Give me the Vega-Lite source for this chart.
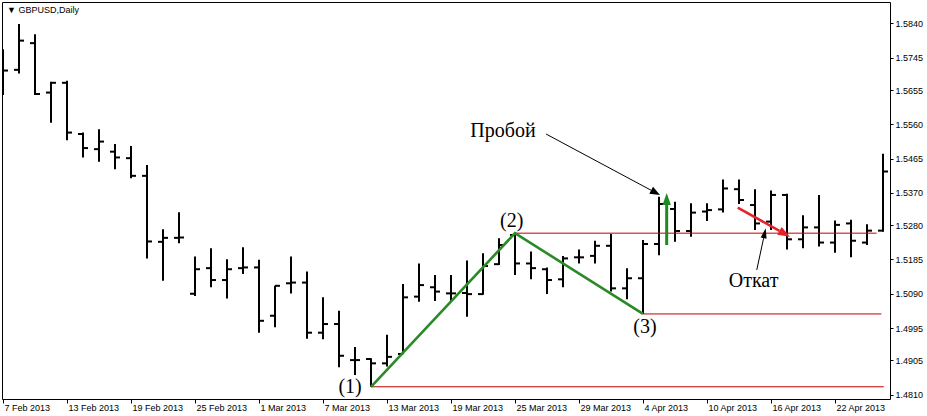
{
  "$schema": "https://vega.github.io/schema/vega-lite/v6.json",
  "width": 888,
  "height": 397,
  "autosize": "none",
  "padding": {"left": 2, "top": 2, "right": 37, "bottom": 17},
  "background": "white",
  "title": {
    "text": "▼ GBPUSD,Daily",
    "anchor": "start",
    "frame": "group",
    "offset": -13,
    "dx": 5,
    "font": "Liberation Sans",
    "fontSize": 9,
    "fontWeight": "normal",
    "color": "black"
  },
  "config": {
    "view": {"stroke": "black", "strokeWidth": 1},
    "axis": {
      "grid": false,
      "domain": false,
      "labelFont": "Liberation Sans",
      "labelFontSize": 9,
      "labelColor": "black",
      "tickColor": "black",
      "tickWidth": 1
    }
  },
  "datasets": {
    "bars": [
      {"i": 0, "date": "2013-02-07", "o": 1.5683, "h": 1.5768, "l": 1.5641, "c": 1.5709},
      {"i": 1, "date": "2013-02-08", "o": 1.5711, "h": 1.5838, "l": 1.5701, "c": 1.5792},
      {"i": 2, "date": "2013-02-11", "o": 1.5785, "h": 1.5810, "l": 1.5641, "c": 1.5644},
      {"i": 3, "date": "2013-02-12", "o": 1.5648, "h": 1.5678, "l": 1.5564, "c": 1.5675},
      {"i": 4, "date": "2013-02-13", "o": 1.5675, "h": 1.5681, "l": 1.5516, "c": 1.5537},
      {"i": 5, "date": "2013-02-14", "o": 1.5533, "h": 1.5537, "l": 1.5468, "c": 1.5494},
      {"i": 6, "date": "2013-02-15", "o": 1.5491, "h": 1.5546, "l": 1.5456, "c": 1.5512},
      {"i": 7, "date": "2013-02-18", "o": 1.5484, "h": 1.5505, "l": 1.5435, "c": 1.5468},
      {"i": 8, "date": "2013-02-19", "o": 1.5466, "h": 1.5500, "l": 1.5410, "c": 1.5417},
      {"i": 9, "date": "2013-02-20", "o": 1.5417, "h": 1.5447, "l": 1.5188, "c": 1.5235},
      {"i": 10, "date": "2013-02-21", "o": 1.5234, "h": 1.5269, "l": 1.5126, "c": 1.5245},
      {"i": 11, "date": "2013-02-22", "o": 1.5245, "h": 1.5316, "l": 1.5230, "c": 1.5246},
      {"i": 12, "date": "2013-02-25", "o": 1.5090, "h": 1.5193, "l": 1.5084, "c": 1.5158},
      {"i": 13, "date": "2013-02-26", "o": 1.5161, "h": 1.5216, "l": 1.5108, "c": 1.5128},
      {"i": 14, "date": "2013-02-27", "o": 1.5128, "h": 1.5186, "l": 1.5077, "c": 1.5158},
      {"i": 15, "date": "2013-02-28", "o": 1.5161, "h": 1.5219, "l": 1.5145, "c": 1.5163},
      {"i": 16, "date": "2013-03-01", "o": 1.5163, "h": 1.5184, "l": 1.4982, "c": 1.5015},
      {"i": 17, "date": "2013-03-04", "o": 1.5029, "h": 1.5112, "l": 1.4997, "c": 1.5112},
      {"i": 18, "date": "2013-03-05", "o": 1.5119, "h": 1.5193, "l": 1.5091, "c": 1.5121},
      {"i": 19, "date": "2013-03-06", "o": 1.5121, "h": 1.5152, "l": 1.4965, "c": 1.4982},
      {"i": 20, "date": "2013-03-07", "o": 1.4982, "h": 1.5080, "l": 1.4964, "c": 1.5006},
      {"i": 21, "date": "2013-03-08", "o": 1.5006, "h": 1.5043, "l": 1.4886, "c": 1.4918},
      {"i": 22, "date": "2013-03-11", "o": 1.4906, "h": 1.4942, "l": 1.4865, "c": 1.4906},
      {"i": 23, "date": "2013-03-12", "o": 1.4909, "h": 1.4911, "l": 1.4832, "c": 1.4897},
      {"i": 24, "date": "2013-03-13", "o": 1.4897, "h": 1.4976, "l": 1.4888, "c": 1.4915},
      {"i": 25, "date": "2013-03-14", "o": 1.4923, "h": 1.5117, "l": 1.4922, "c": 1.5080},
      {"i": 26, "date": "2013-03-15", "o": 1.5082, "h": 1.5174, "l": 1.5068, "c": 1.5114},
      {"i": 27, "date": "2013-03-18", "o": 1.5108, "h": 1.5142, "l": 1.5070, "c": 1.5096},
      {"i": 28, "date": "2013-03-19", "o": 1.5091, "h": 1.5142, "l": 1.5068, "c": 1.5091},
      {"i": 29, "date": "2013-03-20", "o": 1.5092, "h": 1.5182, "l": 1.5026, "c": 1.5089},
      {"i": 30, "date": "2013-03-21", "o": 1.5089, "h": 1.5202, "l": 1.5087, "c": 1.5167},
      {"i": 31, "date": "2013-03-22", "o": 1.5172, "h": 1.5244, "l": 1.5170, "c": 1.5225},
      {"i": 32, "date": "2013-03-25", "o": 1.5253, "h": 1.5258, "l": 1.5142, "c": 1.5174},
      {"i": 33, "date": "2013-03-26", "o": 1.5174, "h": 1.5207, "l": 1.5130, "c": 1.5161},
      {"i": 34, "date": "2013-03-27", "o": 1.5158, "h": 1.5163, "l": 1.5089, "c": 1.5128},
      {"i": 35, "date": "2013-03-28", "o": 1.5130, "h": 1.5195, "l": 1.5108, "c": 1.5188},
      {"i": 36, "date": "2013-03-29", "o": 1.5191, "h": 1.5213, "l": 1.5174, "c": 1.5191},
      {"i": 37, "date": "2013-04-01", "o": 1.5195, "h": 1.5237, "l": 1.5174, "c": 1.5223},
      {"i": 38, "date": "2013-04-02", "o": 1.5223, "h": 1.5256, "l": 1.5096, "c": 1.5105},
      {"i": 39, "date": "2013-04-03", "o": 1.5105, "h": 1.5161, "l": 1.5075, "c": 1.5133},
      {"i": 40, "date": "2013-04-04", "o": 1.5133, "h": 1.5239, "l": 1.5034, "c": 1.5228},
      {"i": 41, "date": "2013-04-05", "o": 1.5228, "h": 1.5359, "l": 1.5197, "c": 1.5339},
      {"i": 42, "date": "2013-04-08", "o": 1.5325, "h": 1.5345, "l": 1.5234, "c": 1.5264},
      {"i": 43, "date": "2013-04-09", "o": 1.5264, "h": 1.5341, "l": 1.5248, "c": 1.5315},
      {"i": 44, "date": "2013-04-10", "o": 1.5318, "h": 1.5341, "l": 1.5292, "c": 1.5322},
      {"i": 45, "date": "2013-04-11", "o": 1.5324, "h": 1.5407, "l": 1.5315, "c": 1.5382},
      {"i": 46, "date": "2013-04-12", "o": 1.5380, "h": 1.5407, "l": 1.5339, "c": 1.5350},
      {"i": 47, "date": "2013-04-15", "o": 1.5336, "h": 1.5380, "l": 1.5267, "c": 1.5285},
      {"i": 48, "date": "2013-04-16", "o": 1.5290, "h": 1.5376, "l": 1.5267, "c": 1.5364},
      {"i": 49, "date": "2013-04-17", "o": 1.5364, "h": 1.5367, "l": 1.5213, "c": 1.5241},
      {"i": 50, "date": "2013-04-18", "o": 1.5241, "h": 1.5308, "l": 1.5216, "c": 1.5274},
      {"i": 51, "date": "2013-04-19", "o": 1.5274, "h": 1.5364, "l": 1.5221, "c": 1.5232},
      {"i": 52, "date": "2013-04-22", "o": 1.5232, "h": 1.5293, "l": 1.5204, "c": 1.5281},
      {"i": 53, "date": "2013-04-23", "o": 1.5285, "h": 1.5295, "l": 1.5191, "c": 1.5237},
      {"i": 54, "date": "2013-04-24", "o": 1.5232, "h": 1.5283, "l": 1.5225, "c": 1.5265},
      {"i": 55, "date": "2013-04-25", "o": 1.5265, "h": 1.5478, "l": 1.5262, "c": 1.5429}
    ],
    "levels": [
      {"point": 1, "i": 23, "i2": 55.05, "p": 1.4832},
      {"point": 2, "i": 32, "i2": 54.6, "p": 1.5258},
      {"point": 3, "i": 40, "i2": 54.9, "p": 1.5034}
    ],
    "wave": [
      {"point": 1, "i": 23, "p": 1.4832},
      {"point": 2, "i": 32, "p": 1.5258},
      {"point": 3, "i": 40, "p": 1.5034}
    ],
    "pointers": [
      {"name": "Пробой", "i": 33.94, "p": 1.5533, "i2": 40.51, "p2": 1.53769},
      {"name": "Откат", "i": 47.11, "p": 1.51559, "i2": 47.54, "p2": 1.52443}
    ],
    "breakout": [
      {"i": 41.48, "p": 1.52252, "i2": 41.48, "p2": 1.53361}
    ],
    "pullback": [
      {"i": 45.92, "p": 1.53286, "i2": 48.53, "p2": 1.52643}
    ],
    "notes": [
      {"t": "(1)", "i": 21.69, "p": 1.48306},
      {"t": "(2)", "i": 31.79, "p": 1.52926},
      {"t": "(3)", "i": 40.125, "p": 1.49986},
      {"t": "Пробой", "i": 31.25, "p": 1.55413},
      {"t": "Откат", "i": 46.91, "p": 1.5124}
    ]
  },
  "layer": [
    {
      "data": {"name": "bars"},
      "mark": {"type": "rule", "stroke": "black", "strokeWidth": 2, "clip": true},
      "encoding": {
        "x": {
          "field": "i", "type": "quantitative",
          "scale": {"domain": [-0.0625, 55.4375], "nice": false, "zero": false},
          "axis": {
            "title": null,
            "orient": "bottom",
            "values": [0, 4, 8, 12, 16, 20, 24, 28, 32, 36, 40, 44, 48, 52],
            "tickCount": 30,
            "labelExpr": "['7 Feb 2013','13 Feb 2013','19 Feb 2013','25 Feb 2013','1 Mar 2013','7 Mar 2013','13 Mar 2013','19 Mar 2013','25 Mar 2013','29 Mar 2013','4 Apr 2013','10 Apr 2013','16 Apr 2013','22 Apr 2013'][round(datum.value / 4)]",
            "labelAlign": "left",
            "labelBaseline": "top",
            "labelPadding": 0,
            "labelOffset": 1,
            "labelFlush": false,
            "labelOverlap": false,
            "labelBound": false,
            "tickSize": 4
          }
        },
        "y": {
          "field": "l", "type": "quantitative",
          "scale": {"domain": [1.47981, 1.58991], "nice": false, "zero": false},
          "axis": {
            "title": null,
            "orient": "right",
            "values": [1.481, 1.4905, 1.4995, 1.509, 1.5185, 1.528, 1.537, 1.5465, 1.556, 1.5655, 1.5745, 1.584],
            "tickCount": 30,
            "format": ".4f",
            "labelAlign": "left",
            "labelBaseline": "middle",
            "labelPadding": 2,
            "labelFlush": false,
            "labelOverlap": false,
            "labelBound": false,
            "tickSize": 3
          }
        },
        "y2": {"field": "h"}
      }
    },
    {
      "data": {"name": "bars"},
      "mark": {"type": "rule", "stroke": "black", "strokeWidth": 2, "xOffset": -5, "x2Offset": 0, "clip": true},
      "encoding": {
        "x": {"field": "i", "type": "quantitative", "scale": {"domain": [-0.0625, 55.4375], "nice": false, "zero": false}},
        "x2": {"field": "i"},
        "y": {"field": "o", "type": "quantitative", "scale": {"domain": [1.47981, 1.58991], "nice": false, "zero": false}}
      }
    },
    {
      "data": {"name": "bars"},
      "mark": {"type": "rule", "stroke": "black", "strokeWidth": 2, "xOffset": 0, "x2Offset": 5, "clip": true},
      "encoding": {
        "x": {"field": "i", "type": "quantitative", "scale": {"domain": [-0.0625, 55.4375], "nice": false, "zero": false}},
        "x2": {"field": "i"},
        "y": {"field": "c", "type": "quantitative", "scale": {"domain": [1.47981, 1.58991], "nice": false, "zero": false}}
      }
    },
    {
      "data": {"name": "levels"},
      "mark": {"type": "rule", "stroke": "#c00000", "strokeWidth": 1},
      "encoding": {
        "x": {"field": "i", "type": "quantitative", "scale": {"domain": [-0.0625, 55.4375], "nice": false, "zero": false}},
        "x2": {"field": "i2"},
        "y": {"field": "p", "type": "quantitative", "scale": {"domain": [1.47981, 1.58991], "nice": false, "zero": false}}
      }
    },
    {
      "data": {"name": "wave"},
      "mark": {"type": "line", "stroke": "#2a8a26", "strokeWidth": 2.6, "strokeJoin": "miter"},
      "encoding": {
        "x": {"field": "i", "type": "quantitative", "scale": {"domain": [-0.0625, 55.4375], "nice": false, "zero": false}},
        "y": {"field": "p", "type": "quantitative", "scale": {"domain": [1.47981, 1.58991], "nice": false, "zero": false}},
        "order": {"field": "point"}
      }
    },
    {
      "data": {"name": "pointers"},
      "mark": {"type": "rule", "stroke": "black", "strokeWidth": 1},
      "encoding": {
        "x": {"field": "i", "type": "quantitative", "scale": {"domain": [-0.0625, 55.4375], "nice": false, "zero": false}},
        "x2": {"field": "i2"},
        "y": {"field": "p", "type": "quantitative", "scale": {"domain": [1.47981, 1.58991], "nice": false, "zero": false}},
        "y2": {"field": "p2"}
      }
    },
    {
      "data": {"name": "pointers"},
      "transform": [{"filter": "datum.name === 'Пробой'"}],
      "mark": {"type": "point", "shape": "M0,-2L0.8,0L-0.8,0Z", "size": 100, "filled": true, "color": "black", "opacity": 1, "angle": 118},
      "encoding": {
        "x": {"field": "i2", "type": "quantitative", "scale": {"domain": [-0.0625, 55.4375], "nice": false, "zero": false}},
        "y": {"field": "p2", "type": "quantitative", "scale": {"domain": [1.47981, 1.58991], "nice": false, "zero": false}}
      }
    },
    {
      "data": {"name": "pointers"},
      "transform": [{"filter": "datum.name === 'Откат'"}],
      "mark": {"type": "point", "shape": "M0,-2L0.6,0L-0.6,0Z", "size": 100, "filled": true, "color": "black", "opacity": 1, "angle": 12},
      "encoding": {
        "x": {"field": "i2", "type": "quantitative", "scale": {"domain": [-0.0625, 55.4375], "nice": false, "zero": false}},
        "y": {"field": "p2", "type": "quantitative", "scale": {"domain": [1.47981, 1.58991], "nice": false, "zero": false}}
      }
    },
    {
      "data": {"name": "breakout"},
      "mark": {"type": "rule", "stroke": "#1f8a1f", "strokeWidth": 3},
      "encoding": {
        "x": {"field": "i", "type": "quantitative", "scale": {"domain": [-0.0625, 55.4375], "nice": false, "zero": false}},
        "x2": {"field": "i2"},
        "y": {"field": "p", "type": "quantitative", "scale": {"domain": [1.47981, 1.58991], "nice": false, "zero": false}},
        "y2": {"field": "p2"}
      }
    },
    {
      "data": {"name": "breakout"},
      "mark": {"type": "point", "shape": "M0,-2L0.7,0L-0.7,0Z", "size": 144, "filled": true, "color": "#1f8a1f", "opacity": 1, "angle": 0},
      "encoding": {
        "x": {"field": "i2", "type": "quantitative", "scale": {"domain": [-0.0625, 55.4375], "nice": false, "zero": false}},
        "y": {"field": "p2", "type": "quantitative", "scale": {"domain": [1.47981, 1.58991], "nice": false, "zero": false}}
      }
    },
    {
      "data": {"name": "pullback"},
      "mark": {"type": "rule", "stroke": "#e3222a", "strokeWidth": 2.5},
      "encoding": {
        "x": {"field": "i", "type": "quantitative", "scale": {"domain": [-0.0625, 55.4375], "nice": false, "zero": false}},
        "x2": {"field": "i2"},
        "y": {"field": "p", "type": "quantitative", "scale": {"domain": [1.47981, 1.58991], "nice": false, "zero": false}},
        "y2": {"field": "p2"}
      }
    },
    {
      "data": {"name": "pullback"},
      "mark": {"type": "point", "shape": "M0,-2L0.75,0L-0.75,0Z", "size": 144, "filled": true, "color": "#e3222a", "opacity": 1, "angle": 119},
      "encoding": {
        "x": {"field": "i2", "type": "quantitative", "scale": {"domain": [-0.0625, 55.4375], "nice": false, "zero": false}},
        "y": {"field": "p2", "type": "quantitative", "scale": {"domain": [1.47981, 1.58991], "nice": false, "zero": false}}
      }
    },
    {
      "data": {"name": "notes"},
      "mark": {"type": "text", "font": "Liberation Serif", "fontSize": 20, "align": "center", "baseline": "middle", "color": "black"},
      "encoding": {
        "x": {"field": "i", "type": "quantitative", "scale": {"domain": [-0.0625, 55.4375], "nice": false, "zero": false}},
        "y": {"field": "p", "type": "quantitative", "scale": {"domain": [1.47981, 1.58991], "nice": false, "zero": false}},
        "text": {"field": "t"}
      }
    }
  ]
}
